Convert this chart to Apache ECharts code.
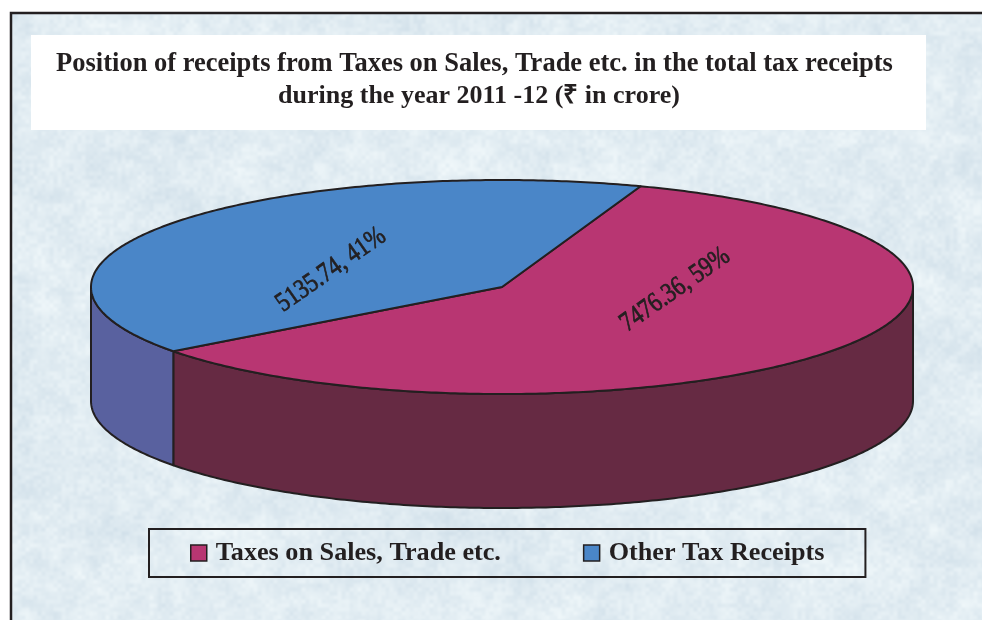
<!DOCTYPE html>
<html>
<head>
<meta charset="utf-8">
<style>html,body{margin:0;padding:0;background:#fff}#c{width:982px;height:620px}</style>
<script src="https://cdn.jsdelivr.net/npm/echarts@6/dist/echarts.min.js"></script>
</head>
<body>
<div id="c"></div>
<script>
// ---- data ----
const categories = ['Taxes on Sales, Trade etc.', 'Other Tax Receipts'];
const values = [7476.36, 5135.74];
const percents = [59, 41];
const titleLines = ['Position of receipts from Taxes on Sales, Trade etc. in the total tax receipts',
                    'during the year 2011 -12 (₹ in crore)'];
// ---- style ----
const topColors = ['#b83672', '#4a86c8'];
const wallColors = ['#662a43', '#59619f'];
const INK = '#231f20';
const SERIF = '"Liberation Serif", serif';
const CX = 502, CY = 287, RX = 411, RY = 107, DEPTH = 114;
const START_DEG = 70.3;            // screen angle at which the blue slice starts
const labelOffsets = [[173, 3], [-171, -17]];
const LABEL_ROT = 35 * Math.PI / 180;

// pale mottled backdrop (deterministic value noise)
function hash(x, y) { const s = Math.sin(x * 127.1 + y * 311.7) * 43758.5453; return s - Math.floor(s); }
function vnoise(x, y) {
  const xi = Math.floor(x), yi = Math.floor(y);
  let fx = x - xi, fy = y - yi;
  fx = fx * fx * (3 - 2 * fx); fy = fy * fy * (3 - 2 * fy);
  const a = hash(xi, yi), b = hash(xi + 1, yi), c = hash(xi, yi + 1), d = hash(xi + 1, yi + 1);
  return (a + (b - a) * fx) * (1 - fy) + (c + (d - c) * fx) * fy;
}
function makeBackdrop(w, h) {
  const cv = document.createElement('canvas'); cv.width = w; cv.height = h;
  const g = cv.getContext('2d'), im = g.createImageData(w, h);
  for (let y = 0; y < h; y++) for (let x = 0; x < w; x++) {
    const n = 0.3 * vnoise(x / 40, y / 40) + 0.35 * vnoise(x / 14, y / 14) + 0.35 * vnoise(x / 4, y / 4) - 0.5;
    const i = (y * w + x) * 4;
    im.data[i] = 225 + n * 34; im.data[i + 1] = 236 + n * 26; im.data[i + 2] = 242 + n * 18; im.data[i + 3] = 255;
  }
  g.putImageData(im, 0, 0);
  return cv;
}

// slice angular extents derived from the values (screen angle, anti-clockwise positive)
const total = values.reduce((a, b) => a + b, 0);
const blueSweep = values[1] / total * 360;
const extents = [
  [START_DEG + blueSweep, START_DEG + 360],
  [START_DEG, START_DEG + blueSweep]
];
function pt(deg, dy) {
  const r = deg * Math.PI / 180;
  return [CX + RX * Math.cos(r), CY - RY * Math.sin(r) + (dy || 0)];
}
function arc(a, b, dy) {
  const pts = [], n = Math.max(2, Math.ceil(Math.abs(b - a) * 1.5));
  for (let i = 0; i <= n; i++) pts.push(pt(a + (b - a) * i / n, dy));
  return pts;
}
function slice(idx) {
  return function () {
    const [a, b] = extents[idx];
    const children = [];
    // visible wall: portion of the slice in the lower half of the ellipse (180..360 deg)
    for (const k of [0, 360, -360]) {
      const lo = Math.max(a, 180 + k), hi = Math.min(b, 360 + k);
      if (hi > lo) {
        children.push({
          type: 'polygon',
          shape: { points: arc(lo, hi, 0).concat(arc(hi, lo, DEPTH)) },
          style: { fill: wallColors[idx], stroke: INK, lineWidth: 2, lineJoin: 'round' }
        });
      }
    }
    children.push({
      type: 'polygon',
      shape: { points: [[CX, CY]].concat(arc(a, b, 0)) },
      style: { fill: topColors[idx], stroke: INK, lineWidth: 2, lineJoin: 'round' }
    });
    children.push({
      type: 'text',
      x: CX + labelOffsets[idx][0], y: CY + labelOffsets[idx][1],
      rotation: LABEL_ROT,
      scaleX: 0.91, scaleY: 1.1,
      style: {
        text: values[idx] + ', ' + percents[idx] + '%',
        font: '25px ' + SERIF, fill: INK, stroke: INK, lineWidth: 0.7,
        textAlign: 'center', textVerticalAlign: 'middle'
      }
    });
    return { type: 'group', children };
  };
}

const chart = echarts.init(document.getElementById('c'), null, { renderer: 'canvas' });
chart.setOption({
  animation: false,
  backgroundColor: '#ffffff',
  graphic: [
    { type: 'image', x: 11, y: 13, style: { image: makeBackdrop(971, 607), x: 0, y: 0, width: 971, height: 607 }, z: 0, silent: true },
    { type: 'rect', shape: { x: 11, y: 13, width: 1000, height: 700 }, style: { fill: 'transparent', stroke: INK, lineWidth: 2.5 }, z: 1, silent: true },
    { type: 'rect', shape: { x: 31, y: 35, width: 895, height: 95 }, style: { fill: '#ffffff' }, z: 1, silent: true }
  ],
  title: [
    { text: titleLines[0], left: 474.5, top: 51, textAlign: 'center', padding: 0, z: 6,
      textStyle: { fontFamily: SERIF, fontWeight: 'bold', fontSize: 26.5, color: INK } },
    { text: titleLines[1], left: 479, top: 83, textAlign: 'center', padding: 0, z: 6,
      textStyle: { fontFamily: SERIF, fontWeight: 'bold', fontSize: 26, color: INK } }
  ],
  legend: {
    data: categories,
    left: 149, top: 529,
    padding: [11, 41, 11, 41],
    borderColor: INK, borderWidth: 2,
    icon: 'rect', itemWidth: 16, itemHeight: 16, itemGap: 82,
    selectedMode: false,
    itemStyle: { borderColor: INK, borderWidth: 1.5 },
    textStyle: { fontFamily: SERIF, fontWeight: 'bold', fontSize: 26.2, color: INK, padding: [0, 0, 0, 4] }
  },
  series: categories.map((name, i) => ({
    type: 'custom',
    name,
    coordinateSystem: 'none',
    silent: true,
    itemStyle: { color: topColors[i] },
    data: [[values[i]]],
    renderItem: slice(i)
  }))
});
</script>
</body>
</html>
